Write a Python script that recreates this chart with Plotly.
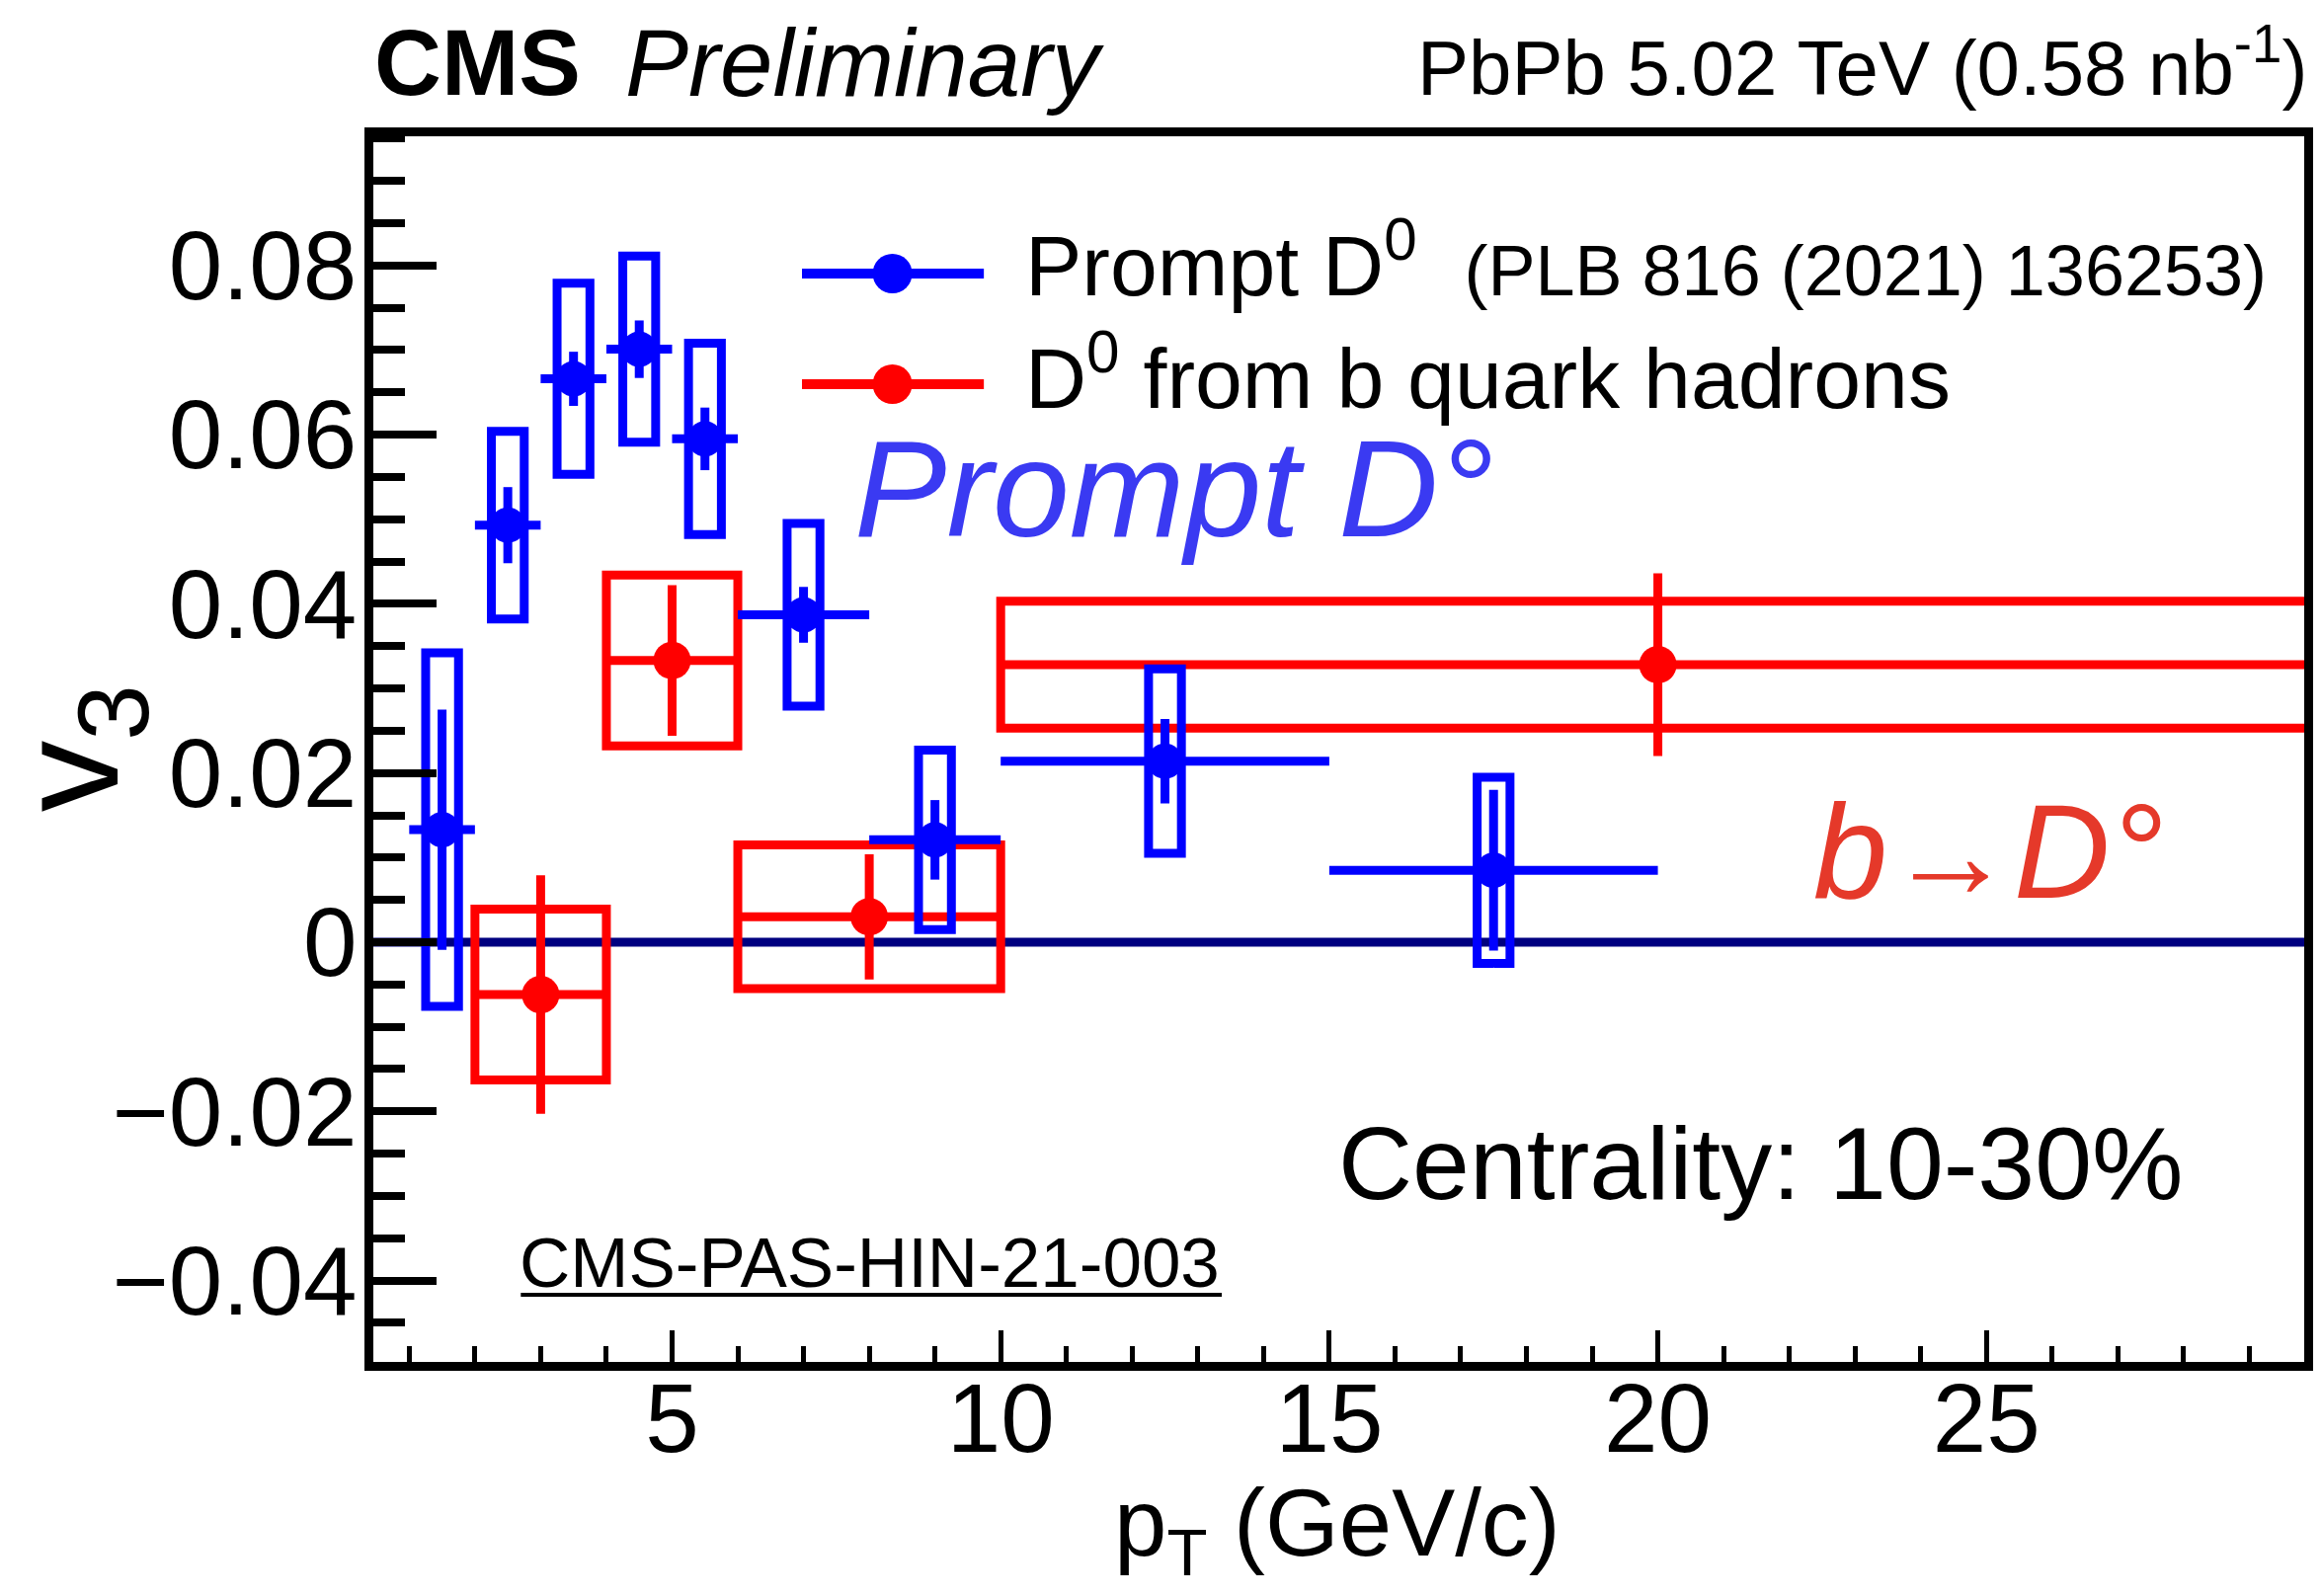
import plotly.graph_objects as go

# ---------------------------------------------------------------------------
# v3 of prompt D0 (PLB 816 (2021) 136253), PbPb 5.02 TeV, centrality 10-30%
# ---------------------------------------------------------------------------
prompt_pt = [1.5, 2.5, 3.5, 4.5, 5.5, 7.0, 9.0, 12.5, 17.5]
prompt_pt_lo = [1, 2, 3, 4, 5, 6, 8, 10, 15]
prompt_pt_hi = [2, 3, 4, 5, 6, 8, 10, 15, 20]
prompt_v3 = [0.0133, 0.0493, 0.0666, 0.0701, 0.0595, 0.0387, 0.0121, 0.0214, 0.0085]
prompt_stat = [0.0142, 0.0045, 0.0032, 0.0034, 0.0037, 0.0033, 0.0047, 0.0050, 0.0095]
prompt_syst = [0.0209, 0.0111, 0.0113, 0.0110, 0.0113, 0.0108, 0.0106, 0.0109, 0.0110]
prompt_box_halfwidth = 0.25

# v3 of D0 from b-hadron decays
bhad_pt = [3, 5, 8, 20]
bhad_pt_lo = [2, 4, 6, 10]
bhad_pt_hi = [4, 6, 10, 30]
bhad_v3 = [-0.0062, 0.0333, 0.0030, 0.0328]
bhad_stat = [0.0141, 0.0089, 0.0074, 0.0108]
bhad_syst = [0.0101, 0.0101, 0.0085, 0.0075]

# axes
x_range = [0.454, 29.835]
y_range = [-0.04962, 0.09527]
x_tickvals = [5, 10, 15, 20, 25]
x_ticktext = ["5", "10", "15", "20", "25"]
y_tickvals = [-0.04, -0.02, 0.0, 0.02, 0.04, 0.06, 0.08]
y_ticktext = ["\u22120.04", "\u22120.02", "0", "0.02", "0.04", "0.06", "0.08"]

BLUE = "#0000ff"
RED = "#ff0000"
NAVY = "#000080"
FONT = "Liberation Sans, Arial, Helvetica, sans-serif"

W, H = 2350, 1616
PL, PR, PT, PB = 378, 2342, 138, 1379   # inner edges of the frame (px)


def px(xpix):
    return (xpix - PL) / (PR - PL)


def py(ypix):
    return (PB - ypix) / (PB - PT)


def box_outline(xlo, xhi, ylo, yhi):
    """Closed rectangle outlines, one per point, separated by gaps."""
    xs, ys = [], []
    for a, b, c, d in zip(xlo, xhi, ylo, yhi):
        m = 0.5 * (a + b)
        xs += [m, b, b, a, a, m, None]
        ys += [c, c, d, d, c, c, None]
    return xs, ys


fig = go.Figure()

# systematic boxes, b-hadron feed-down (bin-wide)
bx, by = box_outline(bhad_pt_lo, bhad_pt_hi,
                     [v - s for v, s in zip(bhad_v3, bhad_syst)],
                     [v + s for v, s in zip(bhad_v3, bhad_syst)])
fig.add_trace(go.Scatter(x=bx, y=by, mode="lines", line=dict(color=RED, width=9),
                         hoverinfo="skip", showlegend=False))

# b-hadron points with stat errors and bin widths
fig.add_trace(go.Scatter(
    x=bhad_pt, y=bhad_v3, mode="markers",
    marker=dict(symbol="circle", size=38, color=RED),
    error_y=dict(type="data", array=bhad_stat, color=RED, thickness=9, width=0),
    error_x=dict(type="data",
                 array=[h - p for h, p in zip(bhad_pt_hi, bhad_pt)],
                 arrayminus=[p - l for p, l in zip(bhad_pt, bhad_pt_lo)],
                 color=RED, thickness=9, width=0),
    showlegend=False))

# systematic boxes, prompt D0
px_lo = [p - prompt_box_halfwidth for p in prompt_pt]
px_hi = [p + prompt_box_halfwidth for p in prompt_pt]
bx, by = box_outline(px_lo, px_hi,
                     [v - s for v, s in zip(prompt_v3, prompt_syst)],
                     [v + s for v, s in zip(prompt_v3, prompt_syst)])
fig.add_trace(go.Scatter(x=bx, y=by, mode="lines", line=dict(color=BLUE, width=9),
                         hoverinfo="skip", showlegend=False))

# prompt D0 points
fig.add_trace(go.Scatter(
    x=prompt_pt, y=prompt_v3, mode="markers",
    marker=dict(symbol="circle", size=36, color=BLUE),
    error_y=dict(type="data", array=prompt_stat, color=BLUE, thickness=9, width=0),
    error_x=dict(type="data",
                 array=[h - p for h, p in zip(prompt_pt_hi, prompt_pt)],
                 arrayminus=[p - l for p, l in zip(prompt_pt, prompt_pt_lo)],
                 color=BLUE, thickness=9, width=0),
    showlegend=False))

shapes = [
    # v3 = 0 reference line
    dict(type="line", xref="paper", yref="y", x0=0, x1=1, y0=0, y1=0,
         line=dict(color=NAVY, width=9), layer="below"),
]

# hand-built legend keys
for ypix, col in [(277, BLUE), (389, RED)]:
    shapes.append(dict(type="line", xref="paper", yref="paper",
                       x0=px(814), x1=px(999), y0=py(ypix), y1=py(ypix),
                       line=dict(color=col, width=10)))
    shapes.append(dict(type="circle", xref="paper", yref="paper",
                       xsizemode="pixel", ysizemode="pixel",
                       xanchor=px(906), yanchor=py(ypix),
                       x0=-20, x1=20, y0=-20, y1=20,
                       fillcolor=col, line=dict(color=col, width=0)))

# underline of the analysis reference
shapes.append(dict(type="line", xref="paper", yref="paper",
                   x0=px(528), x1=px(1241), y0=py(1311), y1=py(1311),
                   line=dict(color="black", width=4)))

annotations = []


def label(text, xpix, ypix, size, xanchor="left", color="black", angle=0, yanchor="middle"):
    annotations.append(dict(
        text=text, xref="paper", yref="paper", x=px(xpix), y=py(ypix),
        xanchor=xanchor, yanchor=yanchor, showarrow=False, textangle=angle,
        font=dict(family=FONT, size=size, color=color), borderpad=0))


label("<b>CMS</b>", 378, 64, 94)
label("<i>Preliminary</i>", 633, 64, 96)
label("PbPb 5.02 TeV (0.58 nb<sup>-1</sup>)", 2346, 64, 78, xanchor="right")

label("Prompt D<sup>0</sup>\u00a0 <span style='font-size:72px'>(PLB 816 (2021) 136253)</span>",
      1040, 263, 86)
label("D<sup>0</sup> from b quark hadrons", 1040, 377, 86)

label("Centrality: 10-30%", 1358, 1178, 104)
label("CMS-PAS-HIN-21-003", 526, 1278, 71)

label("<i>Prompt D\u00b0</i>", 866, 494, 140, color="#3a3af2")
label("<i>b</i><span style='font-size:128px'>\u2192</span><i>D\u00b0</i>", 1842, 862, 135,
      color="#e5392a")

# axis titles
label("p<sub>T</sub> (GeV/c)", 1358, 1548, 96, xanchor="center")
label("v<sub>3</sub>", 78, 758, 145, xanchor="center", angle=-90)

axis_common = dict(showline=True, linecolor="black", linewidth=9, mirror=True,
                   ticks="inside", tickcolor="black", showgrid=False, zeroline=False,
                   tickfont=dict(family=FONT, size=98, color="black"))

fig.update_layout(
    width=W, height=H,
    margin=dict(l=PL, r=W - PR, t=PT, b=H - PB),
    paper_bgcolor="white", plot_bgcolor="white",
    showlegend=False,
    shapes=shapes, annotations=annotations,
    xaxis=dict(range=x_range, tickvals=x_tickvals, ticktext=x_ticktext,
               ticklen=32, tickwidth=5, ticklabelstandoff=-36,
               minor=dict(ticks="inside", ticklen=16, tickwidth=5, dtick=1, tick0=0,
                          tickcolor="black", showgrid=False),
               **axis_common),
    yaxis=dict(range=y_range, tickvals=y_tickvals, ticktext=y_ticktext,
               ticklen=64, tickwidth=8, ticklabelstandoff=-12,
               minor=dict(ticks="inside", ticklen=32, tickwidth=8, dtick=0.005, tick0=0,
                          tickcolor="black", showgrid=False),
               **axis_common),
)

fig.write_html("out.html")
